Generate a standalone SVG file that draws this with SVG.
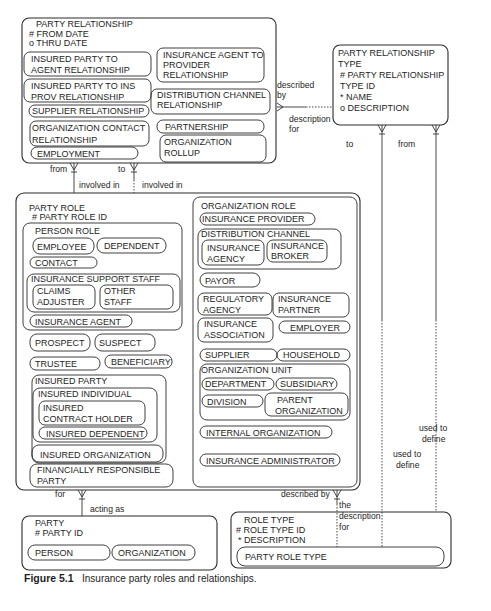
<svg xmlns="http://www.w3.org/2000/svg" width="491" height="611" viewBox="0 0 491 611">
<style>
.e{fill:none;stroke:#2a2a2a;stroke-width:1.1}
.s{fill:none;stroke:#2a2a2a;stroke-width:0.9}
text{font-family:"Liberation Sans",Arial,sans-serif;font-size:9px;fill:#1e1e1e}
.l{font-size:8.6px}
.c{fill:none;stroke:#333;stroke-width:0.9}
.d{fill:none;stroke:#333;stroke-width:0.9;stroke-dasharray:1.5 1.5}
.cap{font-size:10px}
.capb{font-size:10.5px;font-weight:bold}
</style>
<rect width="491" height="611" fill="#fff"/>

<g id="party-relationship">
<rect class="e" x="22" y="18" width="254" height="145" rx="7"/>
<text x="36" y="27">PARTY RELATIONSHIP</text>
<text x="29" y="36.5"># FROM DATE</text>
<text x="29" y="46">o THRU DATE</text>
<rect class="s" x="24" y="52" width="127" height="24" rx="6"/>
<text x="31" y="62">INSURED PARTY TO</text>
<text x="31" y="73">AGENT RELATIONSHIP</text>
<rect class="s" x="24" y="79" width="127" height="23" rx="6"/>
<text x="31" y="89">INSURED PARTY TO INS</text>
<text x="31" y="100">PROV RELATIONSHIP</text>
<rect class="s" x="29" y="105" width="120" height="12" rx="6"/>
<text x="32" y="114">SUPPLIER RELATIONSHIP</text>
<rect class="s" x="30" y="121" width="119" height="25" rx="6"/>
<text x="32" y="131">ORGANIZATION CONTACT</text>
<text x="32" y="143">RELATIONSHIP</text>
<rect class="s" x="31" y="147" width="107" height="12" rx="6"/>
<text x="37" y="156.5">EMPLOYMENT</text>
<rect class="s" x="157" y="48" width="107" height="34" rx="6"/>
<text x="163" y="58">INSURANCE AGENT TO</text>
<text x="163" y="68">PROVIDER</text>
<text x="163" y="78">RELATIONSHIP</text>
<rect class="s" x="151" y="89" width="119" height="25" rx="6"/>
<text x="157" y="98">DISTRIBUTION CHANNEL</text>
<text x="157" y="108">RELATIONSHIP</text>
<rect class="s" x="157" y="120" width="107" height="13" rx="6"/>
<text x="165" y="129.5">PARTNERSHIP</text>
<rect class="s" x="160" y="135" width="106" height="27" rx="6"/>
<text x="164" y="145">ORGANIZATION</text>
<text x="164" y="156">ROLLUP</text>
</g>

<g id="party-relationship-type">
<rect class="e" x="333" y="45" width="115" height="80" rx="7"/>
<text x="338" y="56">PARTY RELATIONSHIP</text>
<text x="338" y="67">TYPE</text>
<text x="340" y="78"># PARTY RELATIONSHIP</text>
<text x="340" y="89">TYPE ID</text>
<text x="340" y="100">* NAME</text>
<text x="340" y="111">o DESCRIPTION</text>
</g>

<g id="party-role">
<rect class="e" x="16" y="193" width="344" height="297" rx="8"/>
<text x="29" y="211">PARTY ROLE</text>
<text x="32" y="220"># PARTY ROLE ID</text>
<rect class="s" x="23" y="223" width="159" height="107" rx="7"/>
<text x="35" y="234">PERSON ROLE</text>
<rect class="s" x="33" y="238" width="61" height="16" rx="7"/>
<text x="37" y="250">EMPLOYEE</text>
<rect class="s" x="97" y="238" width="69" height="15" rx="7"/>
<text x="104" y="249">DEPENDENT</text>
<rect class="s" x="30" y="257" width="67" height="11" rx="5.5"/>
<text x="35" y="265.5">CONTACT</text>
<rect class="s" x="27" y="274" width="153" height="38" rx="7"/>
<text x="31" y="282">INSURANCE SUPPORT STAFF</text>
<rect class="s" x="33" y="285" width="62" height="24" rx="6"/>
<text x="37" y="294">CLAIMS</text>
<text x="37" y="305">ADJUSTER</text>
<rect class="s" x="100" y="285" width="73" height="24" rx="6"/>
<text x="104" y="294">OTHER</text>
<text x="104" y="305">STAFF</text>
<rect class="s" x="30" y="315" width="102" height="12" rx="6"/>
<text x="35" y="324.5">INSURANCE AGENT</text>
<rect class="s" x="30" y="334" width="60" height="17" rx="7"/>
<text x="35" y="346">PROSPECT</text>
<rect class="s" x="95" y="334" width="60" height="17" rx="7"/>
<text x="99" y="346">SUSPECT</text>
<rect class="s" x="30" y="357" width="70" height="13" rx="6"/>
<text x="35" y="367">TRUSTEE</text>
<rect class="s" x="105" y="355" width="67" height="13" rx="6"/>
<text x="111" y="364.5">BENEFICIARY</text>
<rect class="s" x="32" y="375" width="134" height="88" rx="7"/>
<text x="35" y="384">INSURED PARTY</text>
<rect class="s" x="33" y="388" width="124" height="54" rx="7"/>
<text x="38" y="397">INSURED INDIVIDUAL</text>
<rect class="s" x="39" y="401" width="106" height="24" rx="6"/>
<text x="43" y="411">INSURED</text>
<text x="43" y="422">CONTRACT HOLDER</text>
<rect class="s" x="39" y="427" width="108" height="12" rx="6"/>
<text x="46" y="436.5">INSURED DEPENDENT</text>
<rect class="s" x="32" y="445" width="131" height="17" rx="7"/>
<text x="40" y="457.5">INSURED ORGANIZATION</text>
<rect class="s" x="30" y="464" width="143" height="23" rx="7"/>
<text x="37" y="473">FINANCIALLY RESPONSIBLE</text>
<text x="37" y="484">PARTY</text>
<rect class="s" x="193" y="197" width="164" height="290" rx="7"/>
<text x="201" y="209">ORGANIZATION ROLE</text>
<rect class="s" x="200" y="213" width="115" height="12" rx="6"/>
<text x="202" y="222">INSURANCE PROVIDER</text>
<rect class="s" x="198" y="229" width="143" height="40" rx="7"/>
<text x="201" y="237">DISTRIBUTION CHANNEL</text>
<rect class="s" x="202" y="240" width="62" height="25" rx="6"/>
<text x="207" y="251">INSURANCE</text>
<text x="207" y="262">AGENCY</text>
<rect class="s" x="267" y="240" width="60" height="22" rx="6"/>
<text x="271" y="249">INSURANCE</text>
<text x="271" y="259">BROKER</text>
<rect class="s" x="200" y="273" width="60" height="14" rx="7"/>
<text x="205" y="284">PAYOR</text>
<rect class="s" x="198" y="293" width="74" height="22" rx="6"/>
<text x="203" y="302">REGULATORY</text>
<text x="203" y="313">AGENCY</text>
<rect class="s" x="273" y="293" width="76" height="24" rx="6"/>
<text x="278" y="302">INSURANCE</text>
<text x="278" y="313">PARTNER</text>
<rect class="s" x="198" y="318" width="75" height="24" rx="6"/>
<text x="204" y="327">INSURANCE</text>
<text x="204" y="338">ASSOCIATION</text>
<rect class="s" x="279" y="321" width="71" height="12" rx="6"/>
<text x="290" y="330.5">EMPLOYER</text>
<rect class="s" x="200" y="349" width="77" height="12" rx="6"/>
<text x="205" y="358">SUPPLIER</text>
<rect class="s" x="277" y="349" width="73" height="12" rx="6"/>
<text x="283" y="358">HOUSEHOLD</text>
<rect class="s" x="200" y="364" width="150" height="56" rx="7"/>
<text x="201" y="373">ORGANIZATION UNIT</text>
<rect class="s" x="202" y="378" width="72" height="12" rx="6"/>
<text x="205" y="387">DEPARTMENT</text>
<rect class="s" x="276" y="378" width="61" height="12" rx="6"/>
<text x="280" y="387">SUBSIDIARY</text>
<rect class="s" x="202" y="395" width="61" height="12" rx="6"/>
<text x="207" y="404.5">DIVISION</text>
<rect class="s" x="265" y="393" width="83" height="23" rx="6"/>
<text x="277" y="403">PARENT</text>
<text x="275" y="414">ORGANIZATION</text>
<rect class="s" x="200" y="426" width="132" height="12" rx="6"/>
<text x="206" y="435.5">INTERNAL ORGANIZATION</text>
<rect class="s" x="200" y="454" width="140" height="12" rx="6"/>
<text x="206" y="463.5">INSURANCE ADMINISTRATOR</text>
</g>

<g id="party">
<rect class="e" x="22" y="516" width="195" height="54" rx="7"/>
<text x="35" y="526">PARTY</text>
<text x="35" y="536"># PARTY ID</text>
<rect class="s" x="28" y="545" width="82" height="15" rx="7"/>
<text x="35" y="556">PERSON</text>
<rect class="s" x="112" y="545" width="83" height="15" rx="7"/>
<text x="118" y="556">ORGANIZATION</text>
</g>

<g id="role-type">
<rect class="e" x="231" y="512" width="220" height="56" rx="7"/>
<text x="244" y="523">ROLE TYPE</text>
<text x="236" y="533"># ROLE TYPE ID</text>
<text x="238" y="543">* DESCRIPTION</text>
<rect class="s" x="237" y="547" width="207" height="19" rx="8"/>
<text x="245" y="560">PARTY ROLE TYPE</text>
</g>

<g id="connectors">
<path class="c" d="M277,103 L283,107 M277,111 L283,107 M277,107 L306,107"/>
<path class="d" d="M306,107 L333,107"/>
<path class="c" d="M70,163 L74,170 M78,163 L74,170 M74,163 L74,193 M71,172 L77,172"/>
<path class="c" d="M130,163 L134,170 M138,163 L134,170 M134,163 L134,180 M131,172 L137,172"/>
<path class="d" d="M134,180 L134,193"/>
<path class="c" d="M378,125 L382,132 M386,125 L382,132 M382,125 L382,320 M379,134 L385,134"/>
<path class="d" d="M382,320 L382,547"/>
<path class="c" d="M432,125 L436,132 M440,125 L436,132 M436,125 L436,320 M433,134 L439,134"/>
<path class="d" d="M436,320 L436,512"/>
<path class="c" d="M78,490 L82,497 M86,490 L82,497 M82,490 L82,516 M79,499 L85,499"/>
<path class="c" d="M333,490 L337,497 M341,490 L337,497 M337,490 L337,504 M334,499 L340,499"/>
<path class="d" d="M337,504 L337,547"/>
</g>

<g id="labels">
<text class="l" x="277" y="88">described</text>
<text class="l" x="277" y="98">by</text>
<text class="l" x="289" y="122">description</text>
<text class="l" x="289" y="132">for</text>
<text class="l" x="50" y="172">from</text>
<text class="l" x="118" y="172">to</text>
<text class="l" x="79" y="188">involved in</text>
<text class="l" x="142" y="188">involved in</text>
<text class="l" x="346" y="147">to</text>
<text class="l" x="398" y="147">from</text>
<text class="l" x="419" y="431">used to</text>
<text class="l" x="422" y="442">define</text>
<text class="l" x="393" y="457">used to</text>
<text class="l" x="396" y="468">define</text>
<text class="l" x="55" y="497">for</text>
<text class="l" x="90" y="512">acting as</text>
<text class="l" x="281" y="497">described by</text>
<text class="l" x="339" y="508">the</text>
<text class="l" x="339" y="519">description</text>
<text class="l" x="339" y="530">for</text>
</g>

<g id="caption">
<text class="capb" x="24" y="582">Figure 5.1</text>
<text class="cap" x="82" y="582">Insurance party roles and relationships.</text>
</g>
</svg>
